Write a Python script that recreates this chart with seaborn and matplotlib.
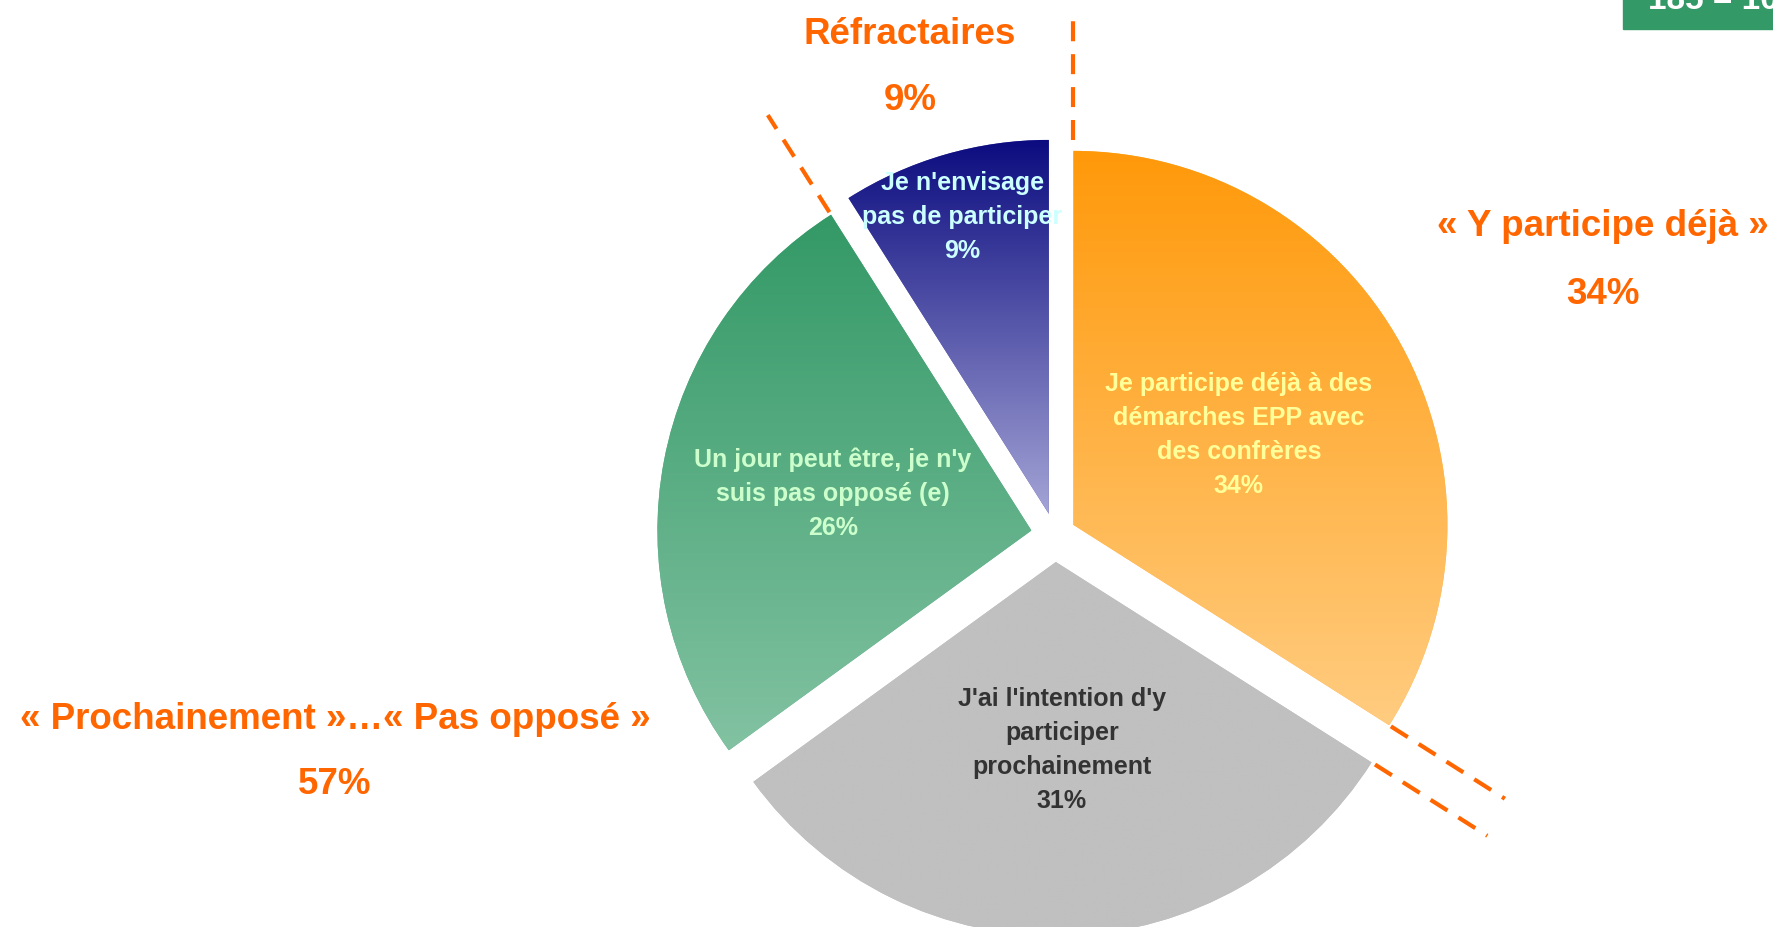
import numpy as np
import matplotlib.pyplot as plt
import seaborn as sns

# slices, clockwise from 12 o'clock
labels = ["Je participe déjà à des\ndémarches EPP avec\ndes confrères",
          "J'ai l'intention d'y\nparticiper\nprochainement",
          "Un jour peut être, je n'y\nsuis pas opposé (e)",
          "Je n'envisage\npas de participer"]
values = [34, 31, 26, 9]
pct_labels = ["34%", "31%", "26%", "9%"]

# groups written around the pie
group_names = ["« Y participe déjà »", "« Prochainement »…« Pas opposé »", "Réfractaires"]
group_pcts = ["34%", "57%", "9%"]

top_colors = ["#ff990a", "#c0c0c0", "#339966", "#0c0c80"]
bottom_colors = ["#ffcc80", "#c0c0c0", "#82c2a2", "#a4a4d6"]
text_colors = ["#ffff99", "#333333", "#ccffcc", "#ccffff"]
orange = "#ff6600"

sns.set_theme(style="white")
plt.rcParams['font.family'] = ['Liberation Sans', 'DejaVu Sans']

W, H = 1773, 928
fig = plt.figure(figsize=(W / 100, H / 100), dpi=100)
ax = fig.add_axes([0, 0, 1, 1])

R = 374
C = (1055, 392)
wedges, _ = ax.pie(values, radius=R, center=C, startangle=90, counterclock=False,
                   explode=[21, 27, 24, 22],
                   colors=top_colors,
                   wedgeprops=dict(linewidth=0, edgecolor='none'))

# vertical gradient inside each slice
for w, c0, c1 in zip(wedges, top_colors, bottom_colors):
    w.set_facecolor(sns.blend_palette([c0, c1], 3)[1])
    v = w.get_path().vertices
    grad = np.array(sns.blend_palette([c0, c1], n_colors=256))[:, None, :]
    im = ax.imshow(grad, extent=(v[:, 0].min(), v[:, 0].max(), v[:, 1].min(), v[:, 1].max()),
                   origin='upper', aspect='auto', interpolation='bilinear', zorder=2)
    im.set_clip_path(w)

# labels inside the slices
label_frac = [0.505, 0.5, 0.54, 0.83]
for w, lab, pct, tc, f in zip(wedges, labels, pct_labels, text_colors, label_frac):
    a = np.deg2rad((w.theta1 + w.theta2) / 2)
    x = w.center[0] + f * R * np.cos(a)
    y = w.center[1] + f * R * np.sin(a)
    ax.text(x, y, lab + "\n" + pct, ha='center', va='center', multialignment='center',
            fontsize=18, fontweight='bold', color=tc, linespacing=1.52, zorder=3)

# dashed separators continuing the slice edges
edges = [(0, 'theta2', 11, 131), (2, 'theta1', 3, 118), (0, 'theta1', 2, 137), (1, 'theta2', 4, 137)]
for i, side, s0, s1 in edges:
    w = wedges[i]
    a = np.deg2rad(getattr(w, side))
    d = np.array([s0, s1]) + R
    ax.plot(w.center[0] + d * np.cos(a), w.center[1] + d * np.sin(a), color=orange,
            lw=3, linestyle=(0, (4.8, 3.1)), solid_capstyle='butt', zorder=3)

# group titles
group_pos = [(1603, 701, 634), (335, 208, 143), (910, 893, 827)]
for name, pct, (x, y1, y2) in zip(group_names, group_pcts, group_pos):
    ax.text(x, y1, name, ha='center', va='center', fontsize=26.5, fontweight='bold', color=orange)
    ax.text(x, y2, pct, ha='center', va='center', fontsize=26.5, fontweight='bold', color=orange)

# sample size box, cut by the page edge
ax.add_patch(plt.Rectangle((1623, 898), 200, 60, color="#339966", zorder=3))
ax.text(1648, 919, "185 = 100%", ha='left', va='baseline', fontsize=24,
        fontweight='bold', color='white', zorder=4)

ax.set_xlim(0, W)
ax.set_ylim(0, H)
ax.set_aspect('auto')
ax.axis('off')
fig.savefig('out.png', dpi=100)
